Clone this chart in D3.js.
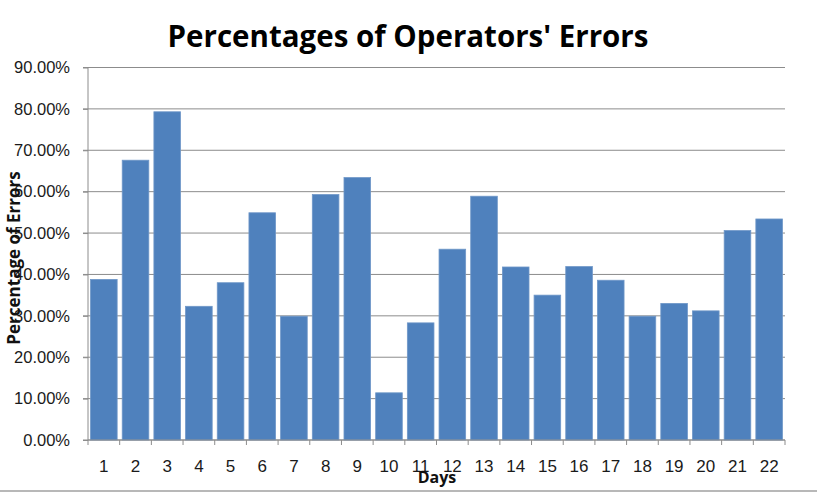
<!DOCTYPE html>
<html>
<head>
<meta charset="utf-8">
<script src="https://cdn.jsdelivr.net/npm/d3@7"></script>
<style>
  body { margin: 0; background: #fff; }
  svg { display: block; }
  text { font-family: "Open Sans", "Liberation Sans", sans-serif; }
</style>
</head>
<body>
<svg id="chart" width="817" height="494"></svg>
<script>
// chart data
var days = ['1','2','3','4','5','6','7','8','9','10','11','12','13','14','15','16','17','18','19','20','21','22'];
var errorPct = [38.8, 67.6, 79.3, 32.3, 38.0, 54.9, 29.9, 59.3, 63.4, 11.4, 28.3, 46.1,
                58.9, 41.8, 35.0, 41.9, 38.6, 29.9, 33.0, 31.2, 50.6, 53.4];
var yTicks = [0, 10, 20, 30, 40, 50, 60, 70, 80, 90];

var svg = d3.select('#chart');
var margin = {left: 88, right: 32, top: 67.5, bottom: 54};
var W = 817, H = 494;
var labelFont = '"Liberation Sans", Arial, sans-serif';

var x = d3.scaleBand()
    .domain(days)
    .range([margin.left, W - margin.right])
    .paddingInner(0.16)
    .paddingOuter(0.08);

var y = d3.scaleLinear()
    .domain([0, 90])
    .range([H - margin.bottom, margin.top]);

// gridlines
svg.append('g')
    .selectAll('line')
    .data(yTicks)
    .enter().append('line')
    .attr('x1', margin.left - 5)
    .attr('x2', W - margin.right)
    .attr('y1', function (d) { return y(d); })
    .attr('y2', function (d) { return y(d); })
    .attr('stroke', '#8c8c8c')
    .attr('stroke-width', 1);

// bars
svg.append('g')
    .selectAll('rect')
    .data(errorPct)
    .enter().append('rect')
    .attr('x', function (d, i) { return x(days[i]); })
    .attr('y', function (d) { return y(d); })
    .attr('width', x.bandwidth())
    .attr('height', function (d) { return y(0) - y(d); })
    .attr('fill', '#4f81bd')
    .attr('stroke', '#6f97c8')
    .attr('stroke-width', 0.8);

// y axis
var yAxis = svg.append('g')
    .attr('transform', 'translate(' + margin.left + ',0)')
    .call(d3.axisLeft(y).tickValues(yTicks).tickSize(5).tickPadding(13)
        .tickFormat(function (d) { return d.toFixed(2) + '%'; }));
yAxis.selectAll('line, path').attr('stroke', '#8c8c8c');
yAxis.select('.domain').attr('d', 'M0,' + y(0) + 'V' + y(90));
yAxis.selectAll('text').attr('font-size', 16.5).attr('fill', '#1a1a1a')
    .style('font-family', labelFont);

// x axis: ticks sit between categories
var xAxis = svg.append('g')
    .attr('transform', 'translate(0,' + y(0) + ')');
xAxis.append('line')
    .attr('x1', margin.left).attr('x2', W - margin.right)
    .attr('stroke', '#8c8c8c');
var step = x.step();
var bounds = days.map(function (d) { return x(d) - x.paddingInner() * step / 2; });
bounds.push(W - margin.right);
bounds[0] = margin.left;
xAxis.selectAll('line.tick')
    .data(bounds)
    .enter().append('line')
    .attr('class', 'tick')
    .attr('x1', function (d) { return d; })
    .attr('x2', function (d) { return d; })
    .attr('y1', 0).attr('y2', 5)
    .attr('stroke', '#8c8c8c');
xAxis.selectAll('text')
    .data(days)
    .enter().append('text')
    .attr('x', function (d) { return x(d) + x.bandwidth() / 2; })
    .attr('y', 32)
    .attr('text-anchor', 'middle')
    .attr('font-size', 17)
    .attr('fill', '#1a1a1a')
    .style('font-family', labelFont)
    .text(function (d) { return d; });

// titles
svg.append('text')
    .attr('x', 408).attr('y', 47)
    .attr('text-anchor', 'middle')
    .attr('font-size', 29.5)
    .attr('font-weight', 'bold')
    .attr('fill', '#000')
    .text("Percentages of Operators' Errors");

svg.append('text')
    .attr('x', 437).attr('y', 483)
    .attr('text-anchor', 'middle')
    .attr('font-size', 16)
    .attr('font-weight', 'bold')
    .attr('fill', '#111')
    .text('Days');

svg.append('text')
    .attr('transform', 'translate(20,258) rotate(-90)')
    .attr('text-anchor', 'middle')
    .attr('font-size', 17)
    .attr('font-weight', 'bold')
    .attr('fill', '#111')
    .text('Percentage of Errors');

// frame line at the bottom
svg.append('line')
    .attr('x1', 0).attr('x2', W)
    .attr('y1', 491).attr('y2', 491)
    .attr('stroke', '#a0a0a0')
    .attr('stroke-width', 1.5);
</script>
</body>
</html>
